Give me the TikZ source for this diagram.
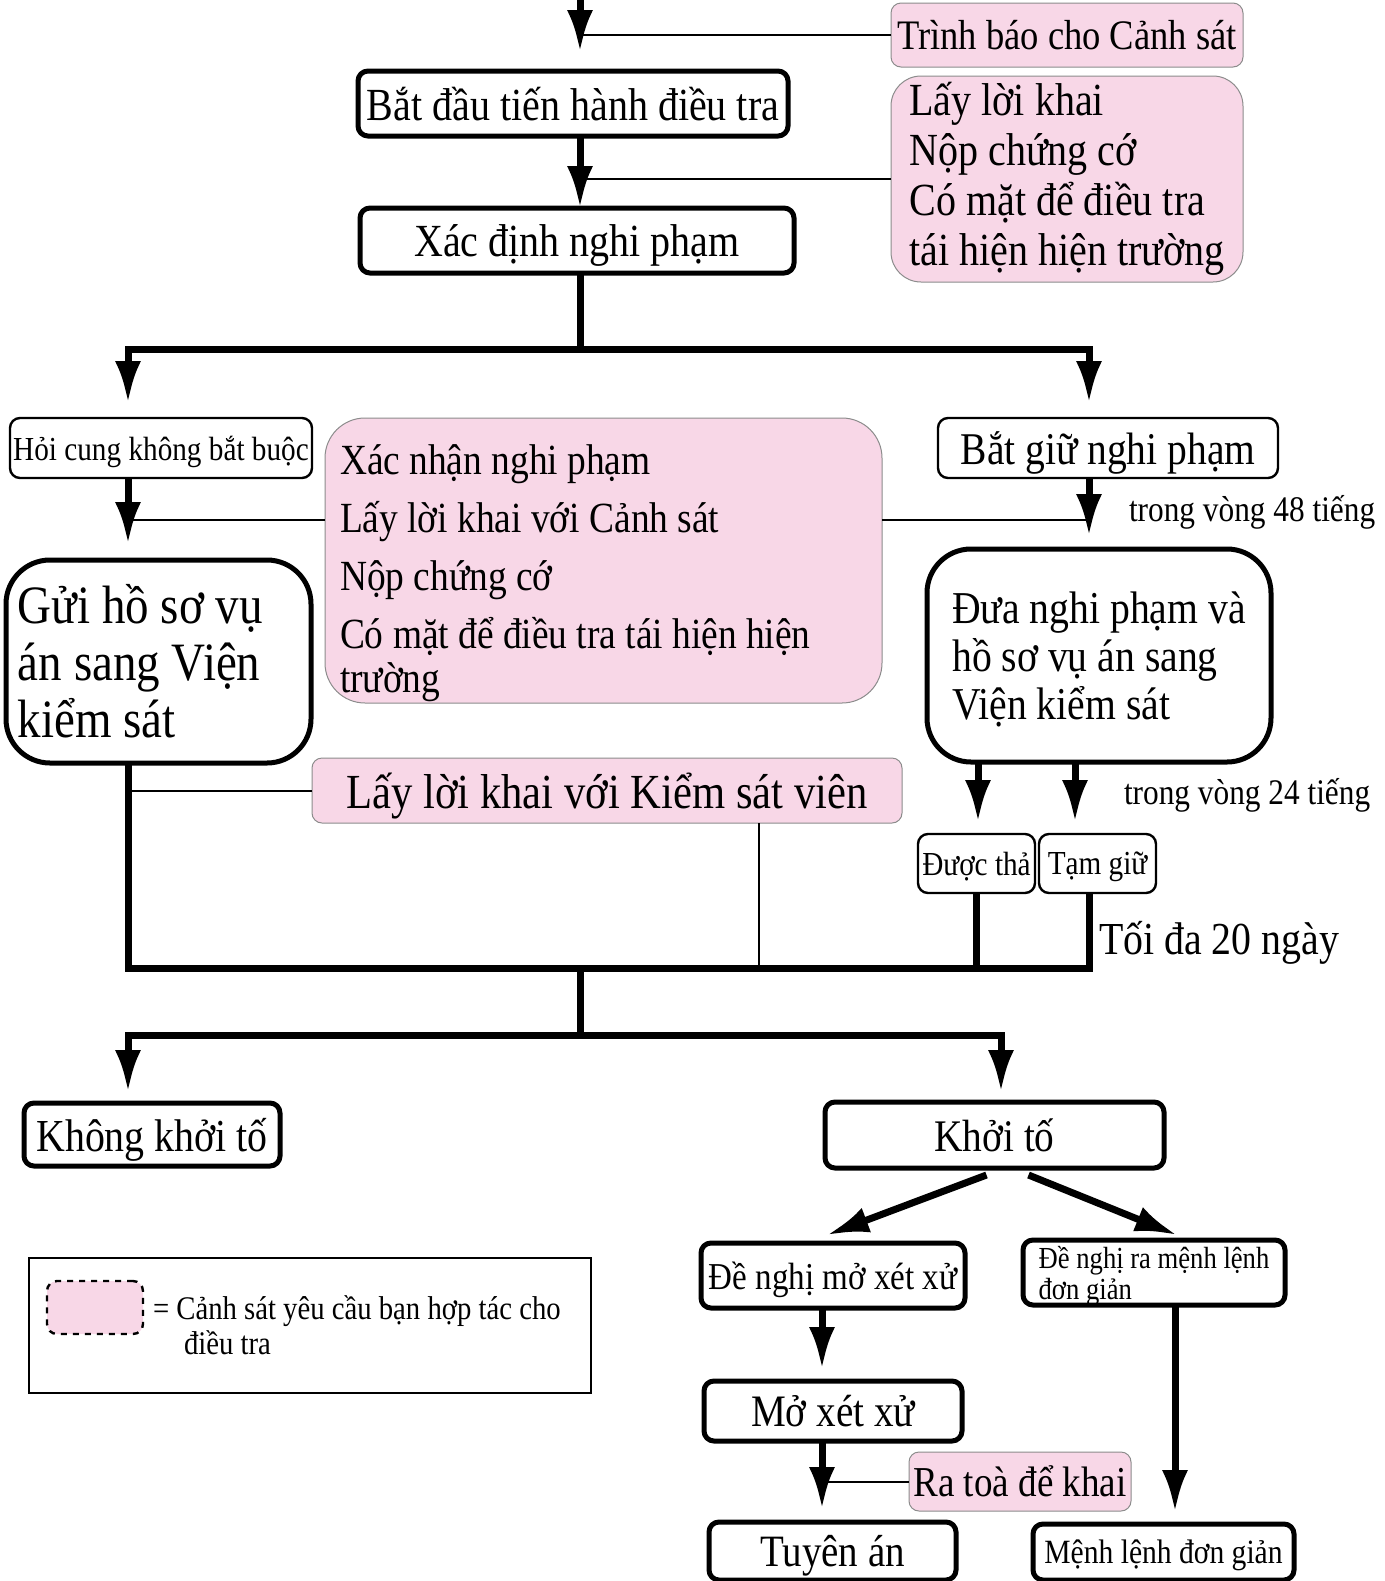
\documentclass[tikz,border=0pt]{standalone}
\usepackage{fontspec}
\setmainfont{Liberation Serif}[FakeStretch=0.87]
\usepackage{tikz}
\usetikzlibrary{arrows.meta,positioning,calc}
\definecolor{coopink}{RGB}{248,215,231}
\newcommand{\fsz}[2]{\fontsize{#1}{#2}\selectfont}

\begin{document}
\begin{tikzpicture}[x=0.5pt,y=-0.5pt,every node/.style={outer sep=0pt,inner sep=0pt}]
\tikzstyle{stage}=[draw,line width=2.5pt,rounded corners=5pt,align=center,text depth=0pt]
\tikzstyle{minor}=[draw,line width=1.2pt,rounded corners=5pt,align=center,text depth=0pt]
\tikzstyle{coop}=[draw=black!45,line width=0.5pt,fill=coopink,rounded corners=5pt,text depth=0pt]
\tikzstyle{flow}=[line width=3.5pt,-{Latex[length=21pt,width=13pt]}]
\tikzstyle{bus}=[line width=3.5pt]
\tikzstyle{link}=[line width=1pt]
\useasboundingbox (0,0) rectangle (1385,1581);
% boxes
\node (report) [coop,minimum width=176pt,minimum height=32pt,font=\fsz{21}{25}] at (1067,35) {Trình báo cho Cảnh sát};
\node (start) [stage,minimum width=215pt,minimum height=32.5pt,font=\fsz{23}{27}] at (573,103.5) {Bắt đầu tiến hành điều tra};
\node (coopa) [coop,rounded corners=15pt,minimum width=176pt,minimum height=103pt,text depth=,align=left,font=\fsz{23}{25}] at (1067,179) {Lấy lời khai\\Nộp chứng cớ\\Có mặt để điều tra\\tái hiện hiện trường};
\node (identify) [stage,minimum width=217pt,minimum height=32.5pt,font=\fsz{23}{27}] at (577,240.5) {Xác định nghi phạm};
\node (optional) [minor,minimum width=151pt,minimum height=30pt,font=\fsz{16.8}{20}] at (161,448) {Hỏi cung không bắt buộc};
\node (coopb) [coop,rounded corners=20pt,minimum width=278.5pt,minimum height=142.5pt,text depth=,text width=263.5pt,align=flush left,font=\fsz{21.5}{22}] at (603.5,560.5) {\rule{0pt}{28pt}Xác nhận nghi phạm\\[7pt]Lấy lời khai với Cảnh sát\\[7pt]Nộp chứng cớ\\[7pt]Có mặt để điều tra tái hiện hiện\\trường};
\node (arrest) [minor,minimum width=170pt,minimum height=30pt,font=\fsz{22.7}{26}] at (1108,448) {Bắt giữ nghi phạm};
\node (sendfile) [stage,rounded corners=22pt,minimum width=152.5pt,minimum height=101.5pt,text depth=,text width=140.5pt,align=flush left,font=\fsz{27}{28.5}] at (158.5,661.5) {Gửi hồ sơ vụ\\án sang Viện\\kiểm sát};
\node (transfer) [stage,rounded corners=22pt,minimum width=172pt,minimum height=106.5pt,align=left,font=\fsz{22.8}{24}] at (1099,655.5) {Đưa nghi phạm và\\hồ sơ vụ án sang\\Viện kiểm sát};
\node (coopc) [coop,minimum width=295pt,minimum height=32.5pt,font=\fsz{24.5}{28}] at (607,790.5) {Lấy lời khai với Kiểm sát viên};
\node (released) [minor,minimum width=58.5pt,minimum height=29.5pt,font=\fsz{16.8}{20}] at (976.5,863.5) {Được thả};
\node (detained) [minor,minimum width=58.5pt,minimum height=29.5pt,font=\fsz{16.8}{20}] at (1097.5,863.5) {Tạm giữ};
\node (noprosec) [stage,minimum width=128pt,minimum height=31.5pt,font=\fsz{22.9}{27}] at (152,1134.5) {Không khởi tố};
\node (prosec) [stage,minimum width=169.5pt,minimum height=33pt,font=\fsz{22.6}{27}] at (994.5,1135) {Khởi tố};
\node (trialreq) [stage,minimum width=132pt,minimum height=32.5pt,font=\fsz{19}{22}] at (833,1275.5) {Đề nghị mở xét xử};
\node (summreq) [stage,minimum width=131pt,minimum height=32.5pt,align=left,font=\fsz{15.3}{15.5}] at (1154,1272.5) {Đề nghị ra mệnh lệnh\\đơn giản};
\node (trial) [stage,minimum width=129pt,minimum height=30pt,font=\fsz{22.5}{26}] at (833,1411) {Mở xét xử};
\node (coopd) [coop,minimum width=111pt,minimum height=29.5pt,font=\fsz{21.3}{25}] at (1020,1481.5) {Ra toà để khai};
\node (verdict) [stage,minimum width=123.5pt,minimum height=29pt,font=\fsz{22.4}{26}] at (832.5,1551) {Tuyên án};
\node (summary) [stage,minimum width=130.5pt,minimum height=28pt,font=\fsz{17}{20}] at (1163.5,1552) {Mệnh lệnh đơn giản};
% legend
\node (legend) [draw,line width=1.2pt,minimum width=281pt,minimum height=67.5pt] at (310,1325.5) {};
\node (swatch) [coop,draw=black,dashed,line width=1.2pt,minimum width=48pt,minimum height=26.5pt] at (95,1307.5) {};
\node (legendtext) [anchor=west,align=left,font=\fsz{16.5}{17.5}] at (153,1325) {= Cảnh sát yêu cầu bạn hợp tác cho\\\hspace*{15.5pt}điều tra};
% columns
\coordinate (col) at (580,0);
\coordinate (lcol) at (128,0);
\coordinate (rcol) at (1089,0);
\coordinate (relcol) at (978,0);
\coordinate (detcol) at (1075,0);
\coordinate (ksv) at (759,0);
\coordinate (pcol) at (1001,0);
\coordinate (tcol) at (822,0);
\coordinate (scol) at (1175,0);
\coordinate (splita) at (580,349);
\coordinate (midb) at (0,520);
\coordinate (mergea) at (580,968);
\coordinate (splitb) at (580,1035);
% top part
\draw[flow,shorten >=9.5pt] (col) -- (start.north -| col);
\draw[link] (report.west) -- (report.west -| col);
\draw[flow] (start.south -| col) -- (identify.north -| col);
\draw[link] (coopa.west) -- (coopa.west -| col);
\draw[bus] (identify.south -| col) -- (splita);
\draw[flow,shorten >=7.5pt] (splita) -| (optional.north -| lcol);
\draw[flow,shorten >=7.5pt] (splita) -| (arrest.north -| rcol);
% middle
\draw[flow,shorten >=8pt] (optional.south -| lcol) -- (sendfile.north -| lcol);
\draw[link] (coopb.west |- midb) -- (lcol |- midb);
\draw[link] (coopb.east |- midb) -- (rcol |- midb);
\draw[flow,shorten >=6.5pt] (arrest.south -| rcol) -- (transfer.north -| rcol);
\node (hours48) [anchor=west,font=\fsz{18}{21}] at (1129,512) {trong vòng 48 tiếng};
\draw[flow,shorten >=6pt] (transfer.south -| relcol) -- (released.north -| relcol);
\draw[flow,shorten >=6pt] (transfer.south -| detcol) -- (detained.north -| detcol);
\node (hours24) [anchor=west,font=\fsz{18}{21}] at (1124,795) {trong vòng 24 tiếng};
\draw[bus] (sendfile.south -| lcol) |- (mergea) -- (mergea -| rcol) -- (detained.south -| rcol);
\draw[bus] (released.south) -- (released.south |- mergea);
\draw[link] (coopc.west) -- (coopc.west -| lcol);
\draw[link] (coopc.south -| ksv) -- (mergea -| ksv);
\node (days20) [anchor=west,font=\fsz{22.9}{27}] at (1099,943) {Tối đa 20 ngày};
% bottom part
\draw[bus] (mergea) -- (splitb);
\draw[flow,shorten >=5.5pt] (splitb) -| (noprosec.north -| lcol);
\draw[flow,shorten >=5pt] (splitb) -| (prosec.north -| pcol);
\draw[flow] ([xshift=-4pt,yshift=-3.5pt]prosec.south) -- ([xshift=-3pt,yshift=4pt]trialreq.north);
\draw[flow] ([xshift=17pt,yshift=-3.5pt]prosec.south) -- ([xshift=11.5pt,yshift=2.5pt]summreq.north);
\draw[flow,shorten >=6pt] (trialreq.south -| tcol) -- (trial.north -| tcol);
\draw[flow,shorten >=6.5pt] (trial.south -| tcol) -- (verdict.north -| tcol);
\draw[link] (coopd.west) -- (coopd.west -| tcol);
\draw[flow,shorten >=6pt] (summreq.south -| scol) -- (summary.north -| scol);
\end{tikzpicture}
\end{document}
